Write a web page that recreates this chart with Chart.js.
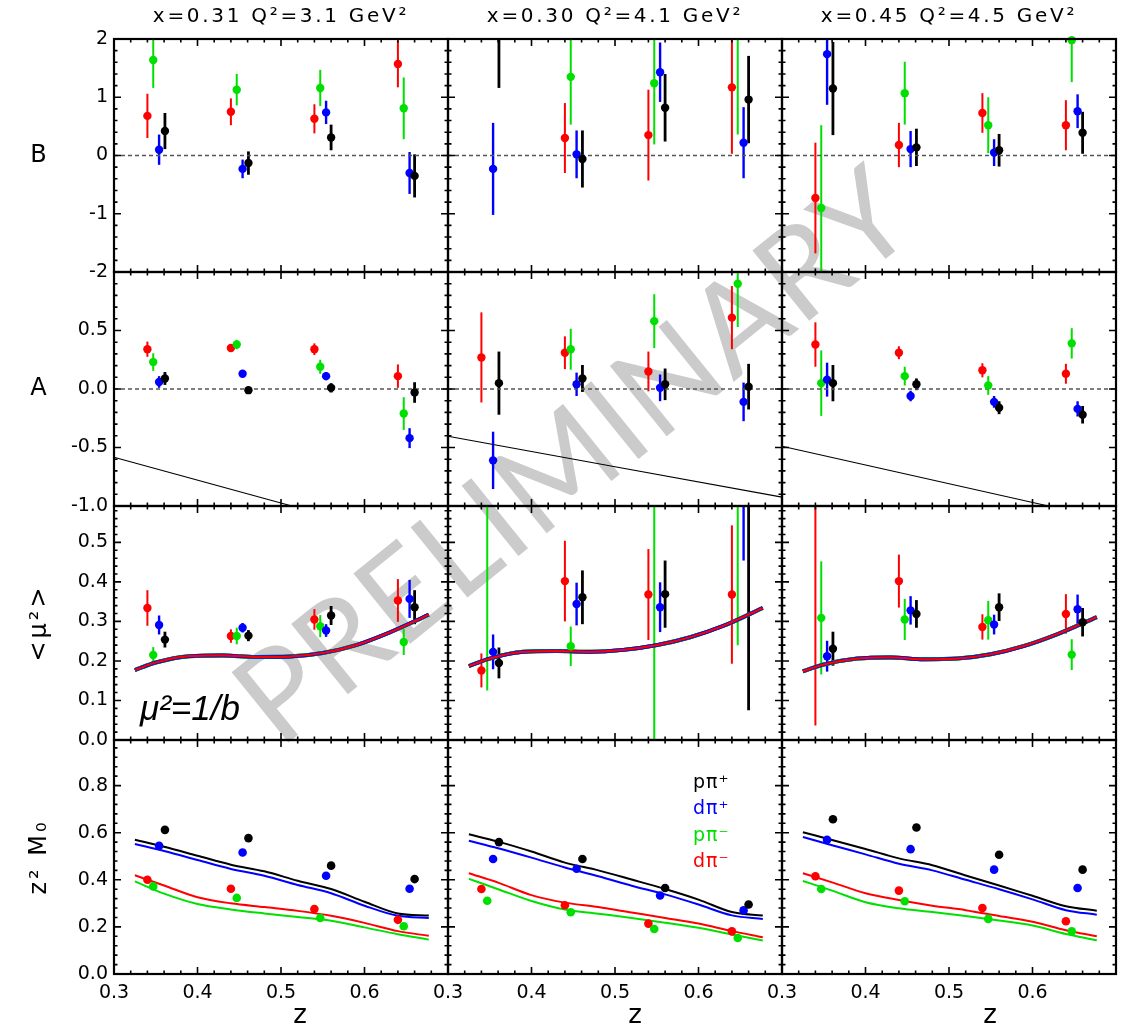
<!DOCTYPE html>
<html>
<head>
<meta charset="utf-8">
<script src="https://cdn.jsdelivr.net/npm/chart.js@4.4.1/dist/chart.umd.min.js"></script>
<style>
  body { margin: 0; background: #fff; }
  #wrap { position: relative; width: 1121px; height: 1030px; overflow: hidden; background: #fff; }
  #wrap canvas { position: absolute; }
  #wm {
    position: absolute; left: 570px; top: 452px;
    transform: translate(-50%, -50%) rotate(-39deg);
    font: 400 126px Lato, "Liberation Sans", Arial, sans-serif;
    color: #cbcbcb; white-space: nowrap; letter-spacing: 1px;
  }
</style>
</head>
<body>
<div id="wrap"><div id="wm">PRELIMINARY</div></div>
<script>
// ---- data -------------------------------------------------------------
const COLUMN_TITLES = ['x=0.31 Q²=3.1 GeV²', 'x=0.30 Q²=4.1 GeV²', 'x=0.45 Q²=4.5 GeV²'];
const ROW_LABELS = ['B', 'A', '<μ²>', 'z² M₀'];
const LEGEND = ['pπ⁺', 'dπ⁺', 'pπ⁻', 'dπ⁻'];

// z positions of the four bins, shifted per target/hadron
const Z_PPIP = [0.361, 0.461, 0.560, 0.660];   // black
const Z_DPIP = [0.354, 0.454, 0.554, 0.654];   // blue
const Z_PPIM = [0.347, 0.447, 0.547, 0.647];   // green
const Z_DPIM = [0.340, 0.440, 0.540, 0.640];   // red

// B (one array per column)
const B_PPIP = [[0.42, -0.13, 0.31, -0.35], [2.30, -0.06, 0.82, 0.96], [1.15, 0.14, 0.09, 0.39]];
const B_PPIP_ERR = [[0.31, 0.20, 0.22, 0.37], [1.14, 0.49, 0.58, 0.75], [0.80, 0.32, 0.28, 0.36]];
const B_DPIP = [[0.10, -0.23, 0.74, -0.30], [-0.23, 0.02, 1.43, 0.22], [1.74, 0.11, 0.05, 0.76]];
const B_DPIP_ERR = [[0.26, 0.16, 0.20, 0.36], [0.79, 0.41, 0.51, 0.61], [0.87, 0.31, 0.23, 0.29]];
const B_PPIM = [[1.64, 1.13, 1.16, 0.81], [null, 1.35, 1.24, 2.20], [-0.90, 1.07, 0.52, 1.98]];
const B_PPIM_ERR = [[0.48, 0.27, 0.31, 0.53], [0, 0.82, 1.05, 1.84], [1.42, 0.54, 0.48, 0.72]];
const B_DPIM = [[0.68, 0.75, 0.63, 1.57], [null, 0.30, 0.35, 1.17], [-0.73, 0.18, 0.73, 0.52]];
const B_DPIM_ERR = [[0.38, 0.23, 0.25, 0.40], [0, 0.60, 0.78, 1.14], [0.95, 0.38, 0.34, 0.43]];

// A
const A_PPIP = [[0.09, -0.01, 0.01, -0.03], [0.05, 0.09, 0.04, 0.02], [0.05, 0.04, -0.16, -0.22]];
const A_PPIP_ERR = [[0.055, 0.02, 0.04, 0.088], [0.27, 0.115, 0.135, 0.195], [0.155, 0.05, 0.055, 0.075]];
const A_DPIP = [[0.06, 0.13, 0.11, -0.42], [-0.61, 0.04, 0.01, -0.11], [0.08, -0.06, -0.11, -0.17]];
const A_DPIP_ERR = [[0.05, 0.02, 0.035, 0.085], [0.245, 0.10, 0.114, 0.165], [0.145, 0.045, 0.05, 0.065]];
const A_PPIM = [[0.23, 0.38, 0.19, -0.21], [null, 0.34, 0.58, 0.90], [0.05, 0.11, 0.03, 0.39]];
const A_PPIM_ERR = [[0.075, 0.04, 0.06, 0.14], [0, 0.175, 0.23, 0.37], [0.28, 0.08, 0.08, 0.13]];
const A_DPIM = [[0.34, 0.35, 0.34, 0.11], [0.27, 0.31, 0.15, 0.61], [0.38, 0.31, 0.16, 0.13]];
const A_DPIM_ERR = [[0.065, 0.03, 0.05, 0.10], [0.385, 0.14, 0.17, 0.27], [0.19, 0.055, 0.06, 0.085]];
// kinematic limit line in the A panels
const LIMIT_Z = [[0.3, 0.513], [0.3, 0.7], [0.3, 0.619]];
const LIMIT_A = [[-0.584, -1.0], [-0.404, -0.924], [-0.49, -1.0]];

// <mu^2>
const MU_PPIP = [[0.254, 0.264, 0.315, 0.336], [0.195, 0.361, 0.369, 0.65], [0.231, 0.319, 0.336, 0.298]];
const MU_PPIP_ERR = [[0.02, 0.014, 0.024, 0.043], [0.039, 0.068, 0.085, 0.575], [0.043, 0.035, 0.035, 0.036]];
const MU_DPIP = [[0.291, 0.284, 0.277, 0.357], [0.223, 0.344, 0.336, 0.70], [0.212, 0.328, 0.292, 0.331]];
const MU_DPIP_ERR = [[0.024, 0.012, 0.016, 0.048], [0.044, 0.054, 0.063, 0.246], [0.039, 0.036, 0.025, 0.037]];
const MU_PPIM = [[0.215, 0.263, 0.288, 0.248], [0.65, 0.237, 0.75, 0.70], [0.309, 0.305, 0.303, 0.216]];
const MU_PPIM_ERR = [[0.02, 0.021, 0.028, 0.033], [0.525, 0.05, 0.75, 0.46], [0.143, 0.052, 0.049, 0.039]];
const MU_DPIM = [[0.334, 0.263, 0.305, 0.353], [0.176, 0.402, 0.368, 0.368], [0.65, 0.402, 0.286, 0.319]];
const MU_DPIM_ERR = [[0.045, 0.017, 0.026, 0.054], [0.043, 0.102, 0.115, 0.175], [0.613, 0.067, 0.032, 0.05]];
// model curve mu^2 = 1/b (same for all four)
const CURVE_Z = [0.325, 0.35, 0.39, 0.43, 0.47, 0.51, 0.55, 0.59, 0.63, 0.677];
const MU_CURVE = [
  [0.177, 0.196, 0.212, 0.214, 0.210, 0.211, 0.220, 0.240, 0.272, 0.317],
  [0.187, 0.206, 0.223, 0.225, 0.223, 0.228, 0.240, 0.260, 0.289, 0.334],
  [0.174, 0.191, 0.206, 0.209, 0.204, 0.206, 0.217, 0.238, 0.268, 0.311]
];

// z^2 M0
const M0_PPIP = [[0.612, 0.577, 0.460, 0.403], [0.560, 0.488, 0.365, 0.295], [0.657, 0.622, 0.506, 0.443]];
const M0_DPIP = [[0.544, 0.516, 0.417, 0.362], [0.488, 0.447, 0.333, 0.270], [0.570, 0.530, 0.443, 0.365]];
const M0_PPIM = [[0.372, 0.323, 0.238, 0.203], [0.311, 0.262, 0.191, 0.153], [0.361, 0.309, 0.234, 0.181]];
const M0_DPIM = [[0.400, 0.362, 0.276, 0.230], [0.361, 0.292, 0.214, 0.181], [0.415, 0.354, 0.280, 0.224]];
const M0_CURVE_Z = [0.325, 0.36, 0.40, 0.44, 0.48, 0.52, 0.56, 0.60, 0.64, 0.677];
const M0_CURVE_PPIP = [
  [0.570, 0.540, 0.502, 0.464, 0.436, 0.396, 0.361, 0.307, 0.257, 0.248],
  [0.593, 0.562, 0.520, 0.473, 0.440, 0.401, 0.361, 0.316, 0.263, 0.248],
  [0.602, 0.569, 0.531, 0.491, 0.462, 0.418, 0.376, 0.332, 0.288, 0.269]
];
const M0_CURVE_DPIP = [
  [0.552, 0.522, 0.484, 0.446, 0.417, 0.378, 0.343, 0.290, 0.247, 0.238],
  [0.566, 0.534, 0.494, 0.452, 0.415, 0.375, 0.338, 0.295, 0.249, 0.234],
  [0.582, 0.547, 0.508, 0.468, 0.440, 0.400, 0.360, 0.317, 0.271, 0.252]
];
const M0_CURVE_PPIM = [
  [0.393, 0.341, 0.297, 0.274, 0.257, 0.242, 0.226, 0.198, 0.169, 0.146],
  [0.404, 0.360, 0.310, 0.274, 0.256, 0.238, 0.218, 0.196, 0.168, 0.142],
  [0.395, 0.354, 0.305, 0.279, 0.263, 0.246, 0.227, 0.206, 0.170, 0.143]
];
const M0_CURVE_DPIM = [
  [0.419, 0.376, 0.326, 0.300, 0.284, 0.268, 0.247, 0.217, 0.182, 0.162],
  [0.428, 0.388, 0.335, 0.303, 0.284, 0.261, 0.238, 0.214, 0.182, 0.156],
  [0.428, 0.389, 0.343, 0.314, 0.290, 0.271, 0.246, 0.222, 0.186, 0.160]
];

// ---- layout -----------------------------------------------------------
const COL_LEFT = [114, 448, 782];
const PLOT_W = 334;
const ROW_TOP = [39, 272, 506, 740];
const ROW_H = [233, 234, 234, 234];
const ROW_AXIS = [
  { min: -2, max: 2, major: 1, minor: 0.2, dec: 0 },
  { min: -1, max: 1, major: 0.5, minor: 0.1, dec: 1 },
  { min: 0, max: 0.592, major: 0.1, minor: 0.02, dec: 1 },
  { min: 0, max: 0.9935, major: 0.2, minor: 0.04, dec: 1 }
];
const BLACK = '#000000', BLUE = '#0000ff', GREEN = '#00e000', RED = '#ff0000';
const FONT = '"DejaVu Sans", "Liberation Sans", sans-serif';

const wrap = document.getElementById('wrap');

const errorBars = {
  id: 'errorBars',
  beforeDatasetsDraw(chart) {
    const { ctx, chartArea: a, scales: { x, y } } = chart;
    ctx.save();
    ctx.beginPath();
    ctx.rect(a.left, a.top, a.width, a.height);
    ctx.clip();
    chart.data.datasets.slice().reverse().forEach(ds => {
      if (!ds.errWidth) return;
      ctx.strokeStyle = ds.borderColor;
      ctx.lineWidth = ds.errWidth;
      ds.data.forEach(p => {
        const px = x.getPixelForValue(p.x);
        ctx.beginPath();
        ctx.moveTo(px, y.getPixelForValue(p.y - p.e));
        ctx.lineTo(px, y.getPixelForValue(p.y + p.e));
        ctx.stroke();
      });
    });
    ctx.restore();
  }
};

function framePlugin(ax) {
  return {
    id: 'frame',
    afterDatasetsDraw(chart) {
      const { ctx, chartArea: a, scales: { x, y } } = chart;
      ctx.save();
      ctx.strokeStyle = '#000';
      ctx.lineWidth = 1.6;
      ctx.beginPath();
      for (let i = 0; i <= 20; i++) {
        const v = 0.3 + i * 0.02;
        const len = i % 5 === 0 ? 7 : 3.5;
        const px = x.getPixelForValue(v);
        ctx.moveTo(px, a.bottom); ctx.lineTo(px, a.bottom - len);
        ctx.moveTo(px, a.top); ctx.lineTo(px, a.top + len);
      }
      const n = Math.round((ax.max - ax.min) / ax.minor);
      const per = Math.round(ax.major / ax.minor);
      for (let i = 0; i <= n; i++) {
        const v = ax.min + i * ax.minor;
        if (v > ax.max + 1e-9) break;
        const len = i % per === 0 ? 7 : 3.5;
        const py = y.getPixelForValue(v);
        ctx.moveTo(a.left, py); ctx.lineTo(a.left + len, py);
        ctx.moveTo(a.right, py); ctx.lineTo(a.right - len, py);
      }
      ctx.stroke();
      ctx.lineWidth = 2.2;
      ctx.strokeRect(a.left, a.top, a.width, a.height);
      ctx.restore();
    }
  };
}

function textPlugin(items, ox, oy) {
  return {
    id: 'texts',
    afterDraw(chart) {
      const ctx = chart.ctx;
      items.forEach(t => {
        ctx.save();
        ctx.font = t.font;
        ctx.fillStyle = t.color || '#000';
        ctx.textAlign = t.align || 'center';
        ctx.textBaseline = t.baseline || 'middle';
        ctx.letterSpacing = (t.spacing || 0) + 'px';
        ctx.translate(t.x - ox, t.y - oy);
        if (t.rot) ctx.rotate(t.rot);
        ctx.fillText(t.text, 0, 0);
        ctx.restore();
      });
    }
  };
}

function points(zs, vals, errs) {
  const out = [];
  zs.forEach((z, i) => {
    if (vals[i] !== null) out.push({ x: z, y: vals[i], e: errs ? errs[i] : 0 });
  });
  return out;
}

function curve(zs, vals) {
  return zs.map((z, i) => ({ x: z, y: vals[i] }));
}

function seriesSet(r, c) {
  const tabs = [
    [B_DPIM, B_DPIM_ERR, B_PPIM, B_PPIM_ERR, B_DPIP, B_DPIP_ERR, B_PPIP, B_PPIP_ERR],
    [A_DPIM, A_DPIM_ERR, A_PPIM, A_PPIM_ERR, A_DPIP, A_DPIP_ERR, A_PPIP, A_PPIP_ERR],
    [MU_DPIM, MU_DPIM_ERR, MU_PPIM, MU_PPIM_ERR, MU_DPIP, MU_DPIP_ERR, MU_PPIP, MU_PPIP_ERR],
    [M0_DPIM, null, M0_PPIM, null, M0_DPIP, null, M0_PPIP, null]
  ][r];
  const zs = [Z_DPIM, Z_PPIM, Z_DPIP, Z_PPIP];
  const cols = [RED, GREEN, BLUE, BLACK];
  const ew = [2, 2, 2.4, 2.8];
  return cols.map((col, k) => ({
    data: points(zs[k], tabs[2 * k][c], tabs[2 * k + 1] ? tabs[2 * k + 1][c] : null),
    borderColor: col, backgroundColor: col,
    pointRadius: r === 3 ? 4.3 : 4.2, pointBorderWidth: 0,
    showLine: false, errWidth: r === 3 ? 0 : ew[k],
    clip: 5
  }));
}

function lineSet(data, color, width, dash) {
  return {
    data, borderColor: color, backgroundColor: color, borderWidth: width,
    borderDash: dash || [], showLine: true, pointRadius: 0, tension: 0.4,
    cubicInterpolationMode: 'monotone', clip: 1
  };
}

function makePanel(r, c) {
  const padL = c === 0 ? COL_LEFT[0] : 24;
  const padR = 24;
  const padT = r === 0 ? ROW_TOP[0] : 24;
  const padB = r === 3 ? 1030 - ROW_TOP[3] - ROW_H[3] : 24;
  const left = COL_LEFT[c] - padL, top = ROW_TOP[r] - padT;
  const w = padL + PLOT_W + padR, h = padT + ROW_H[r] + padB;
  const cv = document.createElement('canvas');
  cv.width = w; cv.height = h;
  cv.style.left = left + 'px'; cv.style.top = top + 'px';
  cv.style.width = w + 'px'; cv.style.height = h + 'px';
  wrap.appendChild(cv);

  const ax = ROW_AXIS[r];
  // listed bottom-most first; reversed below because Chart.js paints dataset 0 last
  const datasets = [];
  if (r < 2) datasets.push(lineSet([{ x: 0.3, y: 0 }, { x: 0.7, y: 0 }], '#555', 1.4, [4, 3]));
  if (r === 1) datasets.push(lineSet(curve(LIMIT_Z[c], LIMIT_A[c]), '#000', 1.1));
  if (r === 2) {
    datasets.push(lineSet(curve(CURVE_Z, MU_CURVE[c]), BLACK, 4));
    datasets.push(lineSet(curve(CURVE_Z, MU_CURVE[c]), GREEN, 4));
    datasets.push(lineSet(curve(CURVE_Z, MU_CURVE[c]), BLUE, 3.6));
    datasets.push(lineSet(curve(CURVE_Z, MU_CURVE[c]), RED, 2.2));
  }
  if (r === 3) {
    datasets.push(lineSet(curve(M0_CURVE_Z, M0_CURVE_PPIP[c]), BLACK, 2));
    datasets.push(lineSet(curve(M0_CURVE_Z, M0_CURVE_DPIP[c]), BLUE, 2));
    datasets.push(lineSet(curve(M0_CURVE_Z, M0_CURVE_DPIM[c]), RED, 2));
    datasets.push(lineSet(curve(M0_CURVE_Z, M0_CURVE_PPIM[c]), GREEN, 2));
  }
  datasets.push(...seriesSet(r, c));
  datasets.reverse();

  const items = [];
  if (r === 0) items.push({ text: COLUMN_TITLES[c], x: COL_LEFT[c] + PLOT_W / 2, y: 22, baseline: 'alphabetic', font: '20px ' + FONT, spacing: 2.7 });
  if (c === 0) {
    const cy = ROW_TOP[r] + ROW_H[r] / 2;
    items.push({ text: ROW_LABELS[r], x: 40, y: cy, font: '24px ' + FONT, spacing: 3, rot: r >= 2 ? -Math.PI / 2 : 0 });
  }
  if (r === 2 && c === 0) items.push({ text: 'μ²=1/b', x: 140, y: 720, align: 'left', baseline: 'alphabetic', font: 'italic 35px "Liberation Sans", Arial, sans-serif' });
  if (r === 3 && c === 1) {
    const cl = [BLACK, BLUE, GREEN, RED];
    LEGEND.forEach((t, k) => items.push({ text: t, x: 693, y: 783 + k * 26.5, align: 'left', font: '19px ' + FONT, color: cl[k], spacing: 1 }));
  }
  if (r === 3) items.push({ text: 'z', x: [300, 635, 990][c], y: 1016, font: '26px ' + FONT });

  new Chart(cv, {
    type: 'scatter',
    data: { datasets },
    options: {
      responsive: false, animation: false, devicePixelRatio: 1,
      layout: { padding: { left: c === 0 ? 0 : padL, right: padR, top: padT, bottom: r === 3 ? 0 : padB } },
      plugins: { legend: { display: false }, tooltip: { enabled: false } },
      scales: {
        x: {
          type: 'linear', min: 0.3, max: 0.7, display: r === 3,
          grid: { display: false, drawTicks: false }, border: { display: false },
          ticks: {
            stepSize: 0.1, padding: 8, color: '#000', font: { size: 19, family: FONT },
            maxRotation: 0, autoSkip: false,
            callback: v => (v > 0.65 ? '' : v.toFixed(1))
          },
          afterFit: s => { if (r === 3) s.height = padB; }
        },
        y: {
          type: 'linear', min: ax.min, max: ax.max, display: c === 0,
          grid: { display: false, drawTicks: false }, border: { display: false },
          ticks: {
            stepSize: ax.major, padding: 6, color: '#000', font: { size: 19, family: FONT },
            autoSkip: false,
            callback: v => {
              const k = v / ax.major;
              if (Math.abs(k - Math.round(k)) > 1e-6) return '';
              if (r > 0 && v > ax.max - 1e-6) return '';
              return v.toFixed(ax.dec);
            }
          },
          afterFit: s => { if (c === 0) s.width = padL; }
        }
      }
    },
    plugins: [errorBars, framePlugin(ax), textPlugin(items, left, top)]
  });
}

for (let r = 0; r < 4; r++) for (let c = 0; c < 3; c++) makePanel(r, c);
</script>
</body>
</html>
